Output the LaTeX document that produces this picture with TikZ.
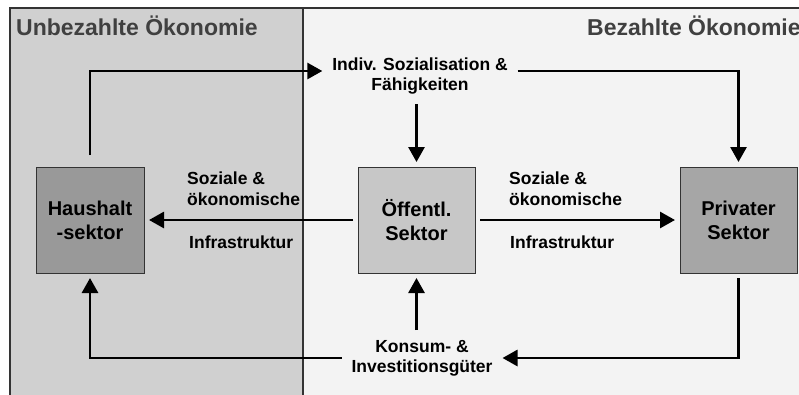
\documentclass[tikz,border=0pt]{standalone}
\usepackage{fontspec}
\setmainfont{Liberation Sans}
\usetikzlibrary{arrows.meta}

\definecolor{unpaidbg}{HTML}{D0D0D0}
\definecolor{paidbg}{HTML}{F3F3F3}
\definecolor{framegray}{HTML}{333333}
\definecolor{titlegray}{HTML}{404040}

\tikzstyle{sector} = [rectangle, minimum height=106pt, text centered, align=center, draw=framegray, line width=0.9pt, outer sep=5pt, font=\fontsize{20}{24}\selectfont\bfseries]
\tikzstyle{flow} = [align=center, inner sep=2pt, outer sep=8pt, font=\fontsize{17.5}{20}\selectfont\bfseries]
\tikzstyle{flowlabel} = [align=left, inner sep=0pt, anchor=west, font=\fontsize{17.5}{21}\selectfont\bfseries]
\tikzstyle{region} = [anchor=base west, inner sep=0pt, text=titlegray, font=\fontsize{23}{26}\selectfont\bfseries]
\tikzstyle{arrow} = [line width=2.8pt, -{Triangle[length=15pt,width=16pt]}]

\begin{document}
\begin{tikzpicture}[x=1pt, y=-1pt]
\useasboundingbox (0,0) rectangle (799,394);
\clip (0,0) rectangle (799,394);

% the two economies
\fill [white] (0,0) rectangle (799,394);
\fill [unpaidbg] (10,8) rectangle (303,400);
\fill [paidbg] (303,8) rectangle (805,400);
\draw [framegray, line width=1.1pt] (10,400) -- (10,8) -- (805,8);
\draw [framegray, line width=1.1pt] (303,8) -- (303,400);
\node (unpaid) [region] at (16,35) {Unbezahlte Ökonomie};
\node (paid) [region] at (587,35) {Bezahlte Ökonomie};

% sectors
\node (hh) [sector, minimum width=108pt, fill=black!40] at (90,220) {Haushalt\\-sektor};
\node (oeff) [sector, minimum width=117pt, fill=black!22] at (416.5,220) {Öffentl.\\Sektor};
\node (priv) [sector, minimum width=117pt, fill=black!35] at (738.5,220) {Privater\\Sektor};

% flows
\node (indiv) [flow] at (420,76) {Indiv. Sozialisation \&\\Fähigkeiten};
\node (konsum) [flow] at (422,358) {Konsum- \&\\Investitionsgüter};
\node (infraL) [flowlabel] at (187,189) {Soziale \&\\ökonomische};
\node (infraLb) [flowlabel] at (189,242) {Infrastruktur};
\node (infraR) [flowlabel] at (509,189) {Soziale \&\\ökonomische};
\node (infraRb) [flowlabel] at (510,242) {Infrastruktur};

\draw [arrow, shorten <=7pt] (hh.north) |- ([yshift=5pt]indiv.west);
\draw [arrow] ([yshift=5pt]indiv.east) -| (priv.north);
\draw [arrow] (indiv.south -| oeff.north) -- (oeff.north);
\draw [arrow] (oeff.west) -- (hh.east);
\draw [arrow] (oeff.east) -- (priv.west);
\draw [arrow] (priv.south) |- (konsum.east);
\draw [arrow] (konsum.north -| oeff.south) -- (oeff.south);
\draw [arrow] (konsum.west) -| (hh.south);
\end{tikzpicture}
\end{document}
